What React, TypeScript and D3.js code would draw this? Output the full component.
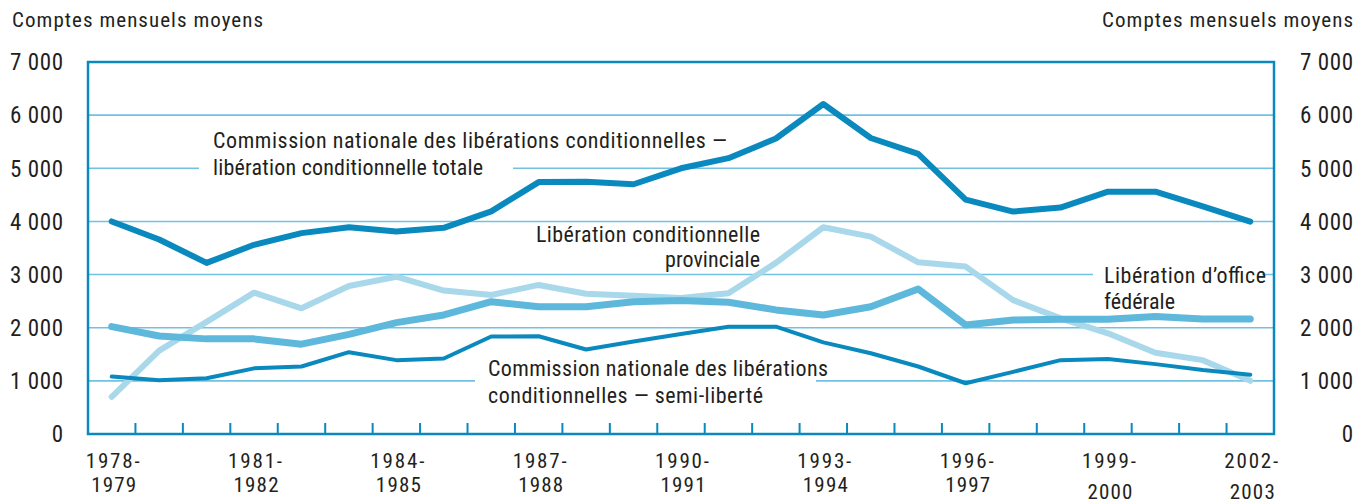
import React from "react";
import * as d3 from "d3";

const years = [
  "1978-1979","1979-1980","1980-1981","1981-1982","1982-1983","1983-1984","1984-1985",
  "1985-1986","1986-1987","1987-1988","1988-1989","1989-1990","1990-1991","1991-1992",
  "1992-1993","1993-1994","1994-1995","1995-1996","1996-1997","1997-1998","1998-1999",
  "1999-2000","2000-2001","2001-2002","2002-2003",
];
const cnlcTotale = [4000,3660,3220,3560,3780,3890,3810,3880,4190,4740,4745,4700,5000,5190,5560,6210,5570,5270,4410,4185,4260,4560,4560,4285,3995];
const provinciale = [700,1570,2110,2660,2365,2785,2960,2700,2615,2805,2640,2600,2560,2650,3220,3890,3715,3230,3150,2520,2175,1895,1530,1390,1000];
const officeFederale = [2020,1845,1790,1790,1690,1875,2095,2240,2490,2395,2395,2490,2510,2480,2335,2240,2395,2730,2050,2145,2160,2160,2210,2165,2165];
const semiLiberte = [1080,1010,1050,1235,1270,1540,1390,1420,1835,1840,1590,1740,1880,2020,2020,1725,1520,1270,955,1170,1390,1410,1315,1205,1115];
const yTicks = [0,1000,2000,3000,4000,5000,6000,7000];
const yTickLabels = ["0","1 000","2 000","3 000","4 000","5 000","6 000","7 000"];
const xLabelYears = ["1978-1979","1981-1982","1984-1985","1987-1988","1990-1991","1993-1994","1996-1997","1999-2000","2002-2003"];
const axisTitle = "Comptes mensuels moyens";

const FONT = "'Liberation Sans Narrow', 'Arial Narrow', 'Roboto Condensed', 'Liberation Sans', Arial, sans-serif";
const DARK = "#0a89be";
const MED = "#5db8dc";
const LIGHT = "#a9d8eb";
const GRID = "#72c1e3";
const TEXT = "#231f20";

export default function App() {
  const W = 1366, H = 504;
  const left = 88, right = 1274, top = 62, bottom = 434;
  const x = d3.scalePoint<string>().domain(years).range([left, right]).padding(0.5);
  const step = x.step();
  const y = d3.scaleLinear().domain([0, 7000]).range([bottom, top]);
  const line = d3.line<number>().x((_, i) => x(years[i]) as number).y((d) => y(d)).curve(d3.curveLinear);

  const series = [
    { data: provinciale, color: LIGHT, w: 6 },
    { data: officeFederale, color: MED, w: 7 },
    { data: semiLiberte, color: DARK, w: 4 },
    { data: cnlcTotale, color: DARK, w: 6 },
  ];

  const labels = [
    { t: "Commission nationale des libérations conditionnelles —", x: 213, y: 148, a: "start", len: 514 },
    { t: "libération conditionnelle totale", x: 213, y: 175, a: "start", len: 270 },
    { t: "Libération conditionnelle", x: 760, y: 242, a: "end", len: 224 },
    { t: "provinciale", x: 760, y: 267, a: "end", len: 95 },
    { t: "Libération d’office", x: 1104, y: 283, a: "start", len: 162 },
    { t: "fédérale", x: 1104, y: 309, a: "start", len: 71 },
    { t: "Commission nationale des libérations", x: 488, y: 376, a: "start", len: 340 },
    { t: "conditionnelles — semi-liberté", x: 488, y: 403, a: "start", len: 275 },
  ];
  const knockouts = [
    { x0: 199, x1: 513, v: 5000 },
    { x0: 475, x1: 816, v: 1000 },
    { x0: 1093, x1: 1262, v: 3000 },
  ];

  return (
    <svg width={W} height={H} style={{ display: "block", position: "absolute", left: 0, top: 0, background: "#fff" }}>
      <rect x={0} y={0} width={W} height={H} fill="#fff" />
      {yTicks.filter((v) => v > 0 && v < 7000).map((v) => (
        <line key={v} x1={left} x2={right} y1={y(v)} y2={y(v)} stroke={GRID} strokeWidth={1.6} />
      ))}
      {knockouts.map((k, i) => (
        <rect key={i} x={k.x0} width={k.x1 - k.x0} y={y(k.v) - 3} height={6} fill="#fff" />
      ))}
      <rect x={left} y={top} width={right - left} height={bottom - top} fill="none" stroke={DARK} strokeWidth={2.5} />
      {years.slice(1).map((yr) => {
        const bx = (x(yr) as number) - step / 2;
        return <line key={yr} x1={bx} x2={bx} y1={bottom} y2={bottom - 11} stroke={DARK} strokeWidth={2} />;
      })}
      {series.map((s, i) => (
        <path key={i} d={line(s.data) || ""} fill="none" stroke={s.color} strokeWidth={s.w} strokeLinejoin="round" strokeLinecap="round" />
      ))}
      {labels.map((l, i) => (
        <text key={i} x={l.x} y={l.y} textAnchor={l.a as any} fontFamily={FONT} fontSize={22} fill={TEXT}
          textLength={l.len} lengthAdjust="spacing">{l.t}</text>
      ))}
      {yTicks.map((v, i) => (
        <g key={v}>
          <text x={63} y={y(v)} dy="0.36em" textAnchor="end" fontFamily={FONT} fontSize={23} fill={TEXT}
            {...(yTickLabels[i].length > 1 ? { textLength: 53, lengthAdjust: "spacing" } : {})}>{yTickLabels[i]}</text>
          <text x={1353} y={y(v)} dy="0.36em" textAnchor="end" fontFamily={FONT} fontSize={23} fill={TEXT}
            {...(yTickLabels[i].length > 1 ? { textLength: 53, lengthAdjust: "spacing" } : {})}>{yTickLabels[i]}</text>
        </g>
      ))}
      <text x={12} y={27} fontFamily={FONT} fontSize={21} fill={TEXT} textLength={251} lengthAdjust="spacing">{axisTitle}</text>
      <text x={1353} y={27} textAnchor="end" fontFamily={FONT} fontSize={21} fill={TEXT} textLength={251} lengthAdjust="spacing">{axisTitle}</text>
      {xLabelYears.map((yr, i) => {
        const [a, b] = yr.split("-");
        const cx = x(yr) as number;
        const late = i >= xLabelYears.length - 2;
        return (
          <g key={yr}>
            <text x={cx + 1} y={468} textAnchor="middle" fontFamily={FONT} fontSize={21} fill={TEXT} textLength={54} lengthAdjust="spacing">{a + "-"}</text>
            <text x={cx + 2} y={late ? 499 : 492} textAnchor="middle" fontFamily={FONT} fontSize={21} fill={TEXT} textLength={45} lengthAdjust="spacing">{b}</text>
          </g>
        );
      })}
    </svg>
  );
}
